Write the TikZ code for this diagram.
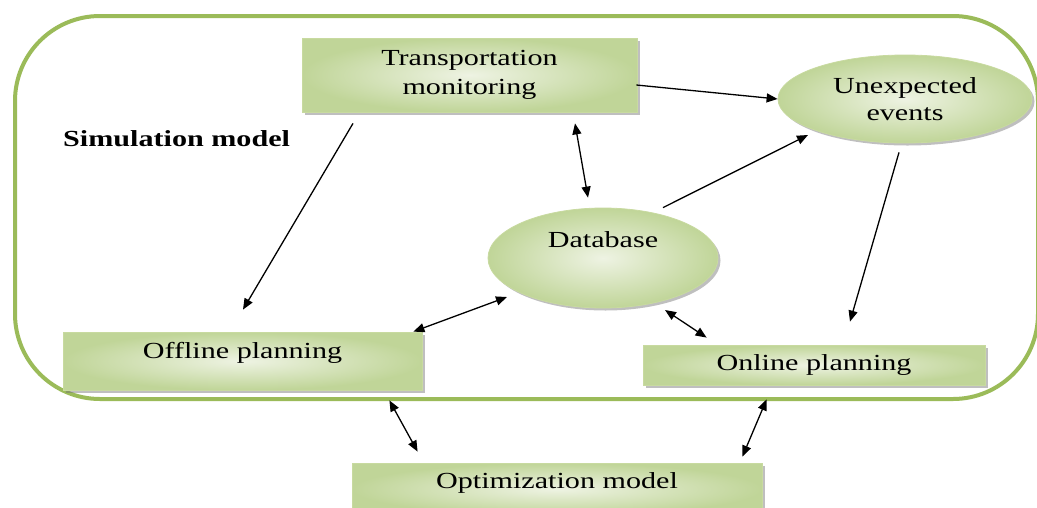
\documentclass[tikz,border=0pt]{standalone}
\usepackage{fontspec}
\setmainfont{Liberation Serif}
\usepackage{graphicx}
\usetikzlibrary{shapes.geometric,arrows.meta,shadows,calc}
\definecolor{gDark}{RGB}{192,213,152}
\definecolor{gLight}{RGB}{238,243,227}
\definecolor{gLine}{RGB}{155,187,89}
\definecolor{gEdge}{RGB}{200,218,160}
\newcommand\wide[1]{\scalebox{1.31}[1]{#1}}
\begin{document}
\begin{tikzpicture}[x=1pt,y=-1pt,
  greenshape/.style={draw=gEdge, line width=0.8pt,
    inner color=gLight, outer color=gDark,
    drop shadow={shadow xshift=2.5pt, shadow yshift=-2.5pt, fill=black!55, opacity=0.45},
    font=\fontsize{23}{29}\selectfont, inner sep=2pt},
  box/.style={greenshape, rectangle},
  ell/.style={greenshape, ellipse},
  arr/.style={line width=1.3pt, -{Triangle[length=11pt,width=9pt]}},
  arrtwo/.style={line width=1.3pt, {Triangle[length=11pt,width=9pt]}-{Triangle[length=11pt,width=9pt]}}
]
\useasboundingbox (0,0) rectangle (1037,507);
\fill[white] (0,0) rectangle (1037,507);
\draw[line width=4pt, gLine, rounded corners=85pt] (15,16) rectangle (1038,399);

\node[box, minimum width=335pt, minimum height=74pt, align=center] (tm) at (469.5,75)
  {\wide{Transportation}\\\wide{monitoring}};
\node[ell, minimum width=254pt, minimum height=88pt, align=center,
  font=\fontsize{23}{26.5}\selectfont] (ue) at (905,99)
  {\wide{Unexpected}\\\wide{events}};
\node[ell, minimum width=230pt, minimum height=100pt, text height=17pt, text depth=39pt] (db) at (603,258)
  {\wide{Database}};
\node[box, minimum width=359pt, minimum height=58pt, text height=17pt, text depth=23pt] (off) at (242.5,361)
  {\wide{Offline planning}};
\node[box, minimum width=342pt, minimum height=40pt, text height=17pt, text depth=7pt] (on) at (814,365)
  {\wide{Online planning}};
\node[box, minimum width=410pt, minimum height=52pt, text height=17pt, text depth=19pt] (opt) at (557,489)
  {\wide{Optimization model}};
\node[anchor=base west, font=\bfseries\fontsize{23}{27}\selectfont, inner sep=0pt] (sim) at (63,146)
  {\wide{Simulation model}};

\draw[arr] ($(tm.east)+(-1,10)$) -- (ue.west);
\draw[arrtwo] ($(tm.south)+(105.5,11)$) -- ($(db.north)+(-15,-10)$);
\draw[arr] ($(tm.south)+(-116.5,11)$) -- ($(off.north)+(0.5,-22)$);
\draw[arr] ($(db.north)+(60,0)$) -- ($(ue.center)+(-97,36)$);
\draw[arr] ($(ue.south)+(-6,9)$) -- ($(on.north)+(36,-23)$);
\draw[arrtwo] ($(db.center)+(-96,39)$) -- ($(off.north east)+(-9,0)$);
\draw[arrtwo] ($(db.center)+(62,52)$) -- ($(on.north west)+(64,-7)$);
\draw[arrtwo] ($(off.south east)+(-33,10)$) -- ($(opt.north west)+(66,-11)$);
\draw[arrtwo] ($(on.south west)+(124,14)$) -- ($(opt.north east)+(-20,-6)$);
\end{tikzpicture}
\end{document}
